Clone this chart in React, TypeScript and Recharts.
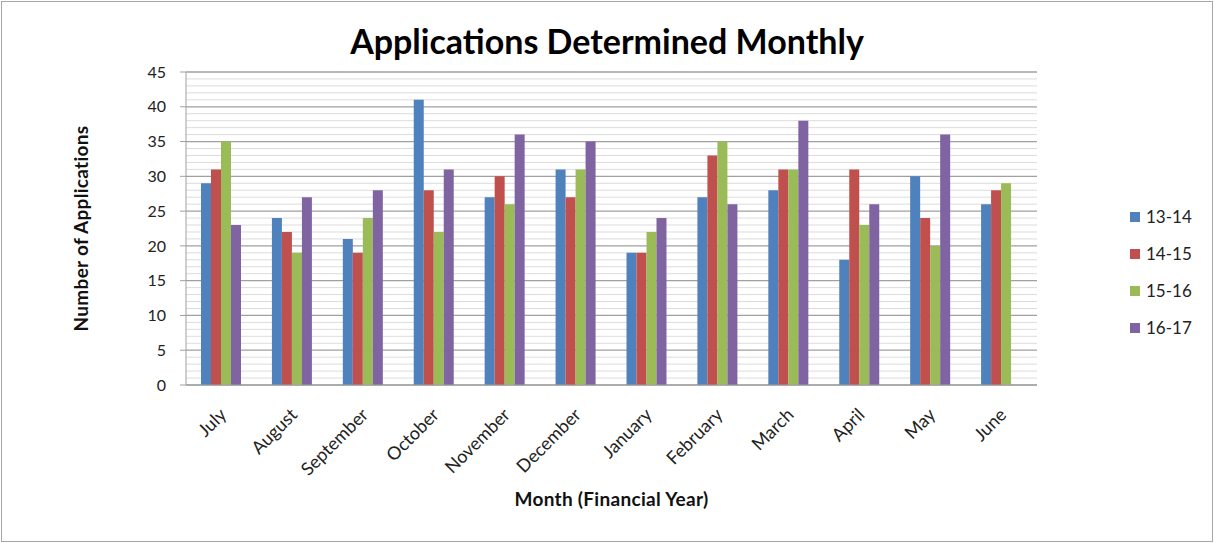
import React from 'react';
import {
  BarChart,
  Bar,
  XAxis,
  YAxis,
  CartesianGrid,
  Legend,
  Label,
} from 'recharts';

const months = [
  'July', 'August', 'September', 'October', 'November', 'December',
  'January', 'February', 'March', 'April', 'May', 'June',
];
const fy1314 = [29, 24, 21, 41, 27, 31, 19, 27, 28, 18, 30, 26];
const fy1415 = [31, 22, 19, 28, 30, 27, 19, 33, 31, 31, 24, 28];
const fy1516 = [35, 19, 24, 22, 26, 31, 22, 35, 31, 23, 20, 29];
const fy1617 = [23, 27, 28, 31, 36, 35, 24, 26, 38, 26, 36, null];

const yTicks = [0, 5, 10, 15, 20, 25, 30, 35, 40, 45];
const minorLines = [
  1, 2, 3, 4, 6, 7, 8, 9, 11, 12, 13, 14, 16, 17, 18, 19, 21, 22, 23, 24,
  26, 27, 28, 29, 31, 32, 33, 34, 36, 37, 38, 39, 41, 42, 43, 44,
];

const seriesList = [
  { key: 'fy1314', name: '13-14', color: '#4F81BD' },
  { key: 'fy1415', name: '14-15', color: '#C0504D' },
  { key: 'fy1516', name: '15-16', color: '#9BBB59' },
  { key: 'fy1617', name: '16-17', color: '#8064A2' },
];

const data = months.map((m, i) => ({
  month: m,
  fy1314: fy1314[i],
  fy1415: fy1415[i],
  fy1516: fy1516[i],
  fy1617: fy1617[i],
}));

const FONT = 'Lato, "Open Sans", sans-serif';

const MonthTick = ({ x, y, payload }: any) => (
  <text
    x={x + 6}
    y={y + 23}
    transform={`rotate(-45 ${x + 6} ${y + 23})`}
    textAnchor="end"
    fontSize={18}
    fontFamily={FONT}
    fill="#222"
  >
    {payload.value}
  </text>
);

const YTitle = ({ viewBox }: any) => {
  const cx = 80;
  const cy = viewBox.y + viewBox.height / 2;
  return (
    <text
      x={cx}
      y={cy}
      transform={`rotate(-90 ${cx} ${cy})`}
      textAnchor="middle"
      dominantBaseline="central"
      fontSize={19}
      letterSpacing={0.3}
      fontWeight="bold"
      fontFamily={FONT}
      fill="#111"
    >
      Number of Applications
    </text>
  );
};

const XTitle = ({ viewBox }: any) => (
  <text
    x={viewBox.x + viewBox.width / 2}
    y={506}
    textAnchor="middle"
    fontSize={19}
    letterSpacing={0.3}
    fontWeight="bold"
    fontFamily={FONT}
    fill="#111"
  >
    Month (Financial Year)
  </text>
);

const LegendBox = () => (
  <div style={{ fontFamily: FONT, fontSize: 17, color: '#222' }}>
    {seriesList.map((s) => (
      <div
        key={s.key}
        style={{ display: 'flex', alignItems: 'center', height: 37 }}
      >
        <span
          style={{
            width: 10,
            height: 10,
            background: s.color,
            marginRight: 6,
            display: 'inline-block',
          }}
        />
        {s.name}
      </div>
    ))}
  </div>
);

export default function App() {
  return (
    <div
      style={{
        position: 'absolute',
        left: 0,
        top: 0,
        width: 1214,
        height: 543,
        background: '#fff',
      }}
    >
      <div
        style={{
          position: 'absolute',
          left: 1,
          top: 1,
          width: 1210,
          height: 539,
          border: '1px solid #a6a6a6',
        }}
      />
      <div
        style={{
          position: 'absolute',
          left: 0,
          top: 20,
          width: 1214,
          textAlign: 'center',
          fontFamily: FONT,
          fontWeight: 'bold',
          fontSize: 34,
          color: '#000',
        }}
      >
        Applications Determined Monthly
      </div>
      <BarChart
        width={1214}
        height={543}
        data={data}
        margin={{ top: 72, right: 177, left: 0, bottom: 0 }}
        barSize={10}
        barGap={0}
      >
        <CartesianGrid
          vertical={false}
          horizontalValues={minorLines}
          stroke="#dcdcdc"
        />
        <CartesianGrid
          vertical={false}
          horizontalValues={yTicks}
          stroke="#a0a0a0"
          strokeWidth={1.3}
        />
        <XAxis
          dataKey="month"
          height={158}
          interval={0}
          tick={<MonthTick />}
          tickLine={false}
          axisLine={{ stroke: '#a0a0a0' }}
        >
          <Label content={<XTitle />} />
        </XAxis>
        <YAxis
          width={186}
          domain={[0, 45]}
          ticks={yTicks}
          interval={0}
          tickSize={6}
          tickMargin={14}
          tick={{ fontSize: 16, fontFamily: FONT, fill: '#222' }}
          axisLine={{ stroke: '#a0a0a0' }}
          tickLine={{ stroke: '#a0a0a0' }}
        >
          <Label content={<YTitle />} />
        </YAxis>
        <Legend
          layout="vertical"
          align="center"
          verticalAlign="middle"
          wrapperStyle={{ left: 1130, top: 198, width: 80 }}
          content={<LegendBox />}
        />
        {seriesList.map((s) => (
          <Bar
            key={s.key}
            dataKey={s.key}
            name={s.name}
            fill={s.color}
            isAnimationActive={false}
          />
        ))}
      </BarChart>
    </div>
  );
}
